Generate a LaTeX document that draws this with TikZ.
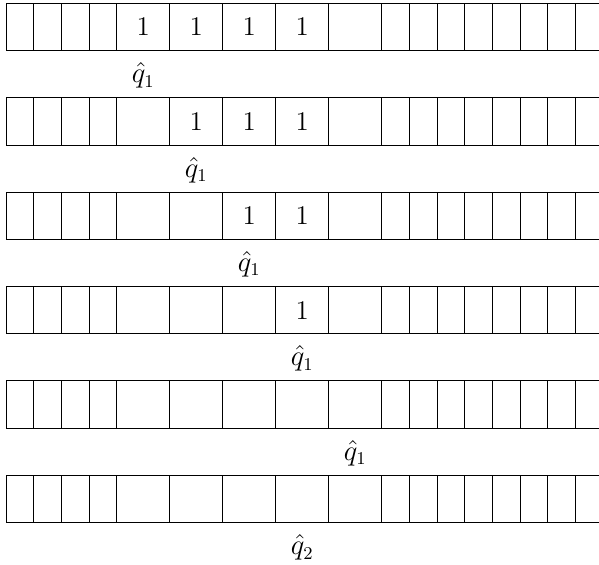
\documentclass[tikz,border=0pt]{standalone}
\begin{document}
\begin{tikzpicture}[x=0.5pt,y=-0.5pt,
  font=\fontsize{13.5}{16}\selectfont,
  cellbox/.style={draw=black, line width=0.4pt, inner sep=0pt, outer sep=0pt,
    minimum height=23.7pt, anchor=north west},
  smallcell/.style={cellbox, minimum width=13.83pt},
  bigcell/.style={cellbox, minimum width=26.5pt},
  sym/.style={inner sep=0pt},
  headlab/.style={inner sep=0pt}]
\clip (0,0) rectangle (599,565);
\foreach \r/\ones/\hp/\hl in {0/4/0/1, 1/3/1/1, 2/2/2/1, 3/1/3/1, 4/0/4/1, 5/0/3/2}{
  \pgfmathsetmacro{\t}{3.3+94.4*\r}
  \foreach \i in {0,...,3}{
    \node[smallcell] (s\r-\i) at ({6+27.7*\i},\t) {};
  }
  \foreach \j in {0,...,4}{
    \node[bigcell] (b\r-\j) at ({116.8+53*\j},\t) {};
  }
  \foreach \k in {0,...,7}{
    \node[smallcell] (e\r-\k) at ({381.8+27.65*\k},\t) {};
  }
  \ifnum\ones>0
    \pgfmathtruncatemacro{\first}{4-\ones}
    \foreach \j in {\first,...,3}{
      \node[sym] (o\r-\j) at (b\r-\j.center) {1};
    }
  \fi
  \node[headlab] (h\r) at ([yshift=-12.4pt]b\r-\hp.south) {$\hat{q}_{\hl}$};
}
\end{tikzpicture}
\end{document}
